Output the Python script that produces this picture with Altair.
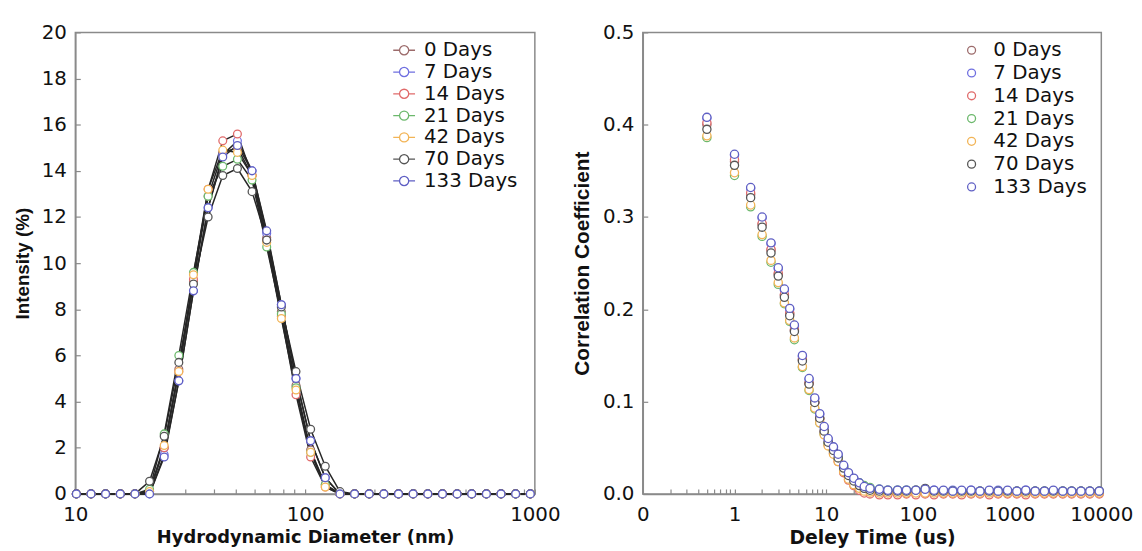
import altair as alt
import pandas as pd

series_names = ["0 Days", "7 Days", "14 Days", "21 Days", "42 Days", "70 Days", "133 Days"]
series_colors = ["#9c6b6b", "#6f6fe0", "#e06a6a", "#6cb86c", "#f2b456", "#555555", "#5f5fc4"]

# ---- Left panel: intensity size distribution ----
sizes = [10.1, 11.7, 13.54, 15.69, 18.17, 21.04, 24.36, 28.21, 32.67, 37.84, 43.82,
         50.75, 58.77, 68.06, 78.82, 91.28, 105.7, 122.4, 141.8, 164.2, 190.1, 220.2,
         255.0, 295.3, 342.0, 396.1, 458.7, 531.2, 615.1, 712.4, 825.0, 955.4]

int_0 = [0, 0, 0, 0, 0, 0.1, 2.0, 5.4, 9.2, 12.9, 14.8, 15.0, 13.8, 11.1, 7.9, 4.7, 1.9, 0.4, 0.0,
         0, 0, 0, 0, 0, 0, 0, 0, 0, 0, 0, 0, 0]
int_7 = [0, 0, 0, 0, 0, 0.0, 1.7, 4.9, 8.8, 12.4, 14.7, 15.3, 14.0, 11.3, 8.2, 5.0, 2.3, 0.7, 0.0,
         0, 0, 0, 0, 0, 0, 0, 0, 0, 0, 0, 0, 0]
int_14 = [0, 0, 0, 0, 0, 0.1, 2.0, 5.3, 9.3, 13.2, 15.3, 15.6, 13.8, 11.0, 7.7, 4.3, 1.6, 0.3, 0.0,
          0, 0, 0, 0, 0, 0, 0, 0, 0, 0, 0, 0, 0]
int_21 = [0, 0, 0, 0, 0, 0.2, 2.6, 6.0, 9.6, 12.9, 14.2, 14.5, 13.6, 10.7, 7.8, 4.6, 1.8, 0.4, 0.0,
          0, 0, 0, 0, 0, 0, 0, 0, 0, 0, 0, 0, 0]
int_42 = [0, 0, 0, 0, 0, 0.1, 2.1, 5.3, 9.5, 13.2, 14.9, 14.8, 13.8, 10.9, 7.6, 4.5, 1.8, 0.3, 0.0,
          0, 0, 0, 0, 0, 0, 0, 0, 0, 0, 0, 0, 0]
int_70 = [0, 0, 0, 0, 0, 0.55, 2.5, 5.7, 9.1, 12.0, 13.8, 14.1, 13.1, 11.0, 8.1, 5.3, 2.8, 1.2, 0.1,
          0, 0, 0, 0, 0, 0, 0, 0, 0, 0, 0, 0, 0]
int_133 = [0, 0, 0, 0, 0, 0.0, 1.6, 4.9, 8.8, 12.4, 14.6, 15.1, 14.0, 11.4, 8.2, 5.0, 2.3, 0.7, 0.0,
           0, 0, 0, 0, 0, 0, 0, 0, 0, 0, 0, 0, 0]
intensity = [int_0, int_7, int_14, int_21, int_42, int_70, int_133]

left_x_ticks = [10, 20, 30, 40, 50, 60, 70, 80, 90, 100, 200, 300, 400, 500, 600, 700, 800, 900, 1000]
left_x_labels = [10, 100, 1000]
left_y_ticks = [0, 2, 4, 6, 8, 10, 12, 14, 16, 18, 20]

# ---- Right panel: correlation function ----
tau = [0.5, 1, 1.5, 2, 2.5, 3, 3.5, 4, 4.5, 5.5, 6.5, 7.5, 8.5, 9.5, 10.5, 12, 13.5, 15.5, 17.5, 20,
       23, 26, 30, 38, 47, 60, 75, 95, 120, 150, 190, 240, 300, 380, 475, 600, 750, 950, 1200,
       1500, 1900, 2400, 3000, 3800, 4750, 6000, 7500, 9500]

corr_0 = [0.400, 0.360, 0.324, 0.292, 0.264, 0.238, 0.215, 0.195, 0.177, 0.145, 0.120, 0.099, 0.082,
          0.068, 0.056, 0.047, 0.038, 0.026, 0.018, 0.012, 0.007, 0.004,
          0.003, 0.002, 0.002, 0.002, 0.002, 0.002, 0.003, 0.002, 0.002, 0.002, 0.002, 0.002, 0.002,
          0.002, 0.002, 0.002, 0.002, 0.002, 0.002, 0.002, 0.002, 0.002, 0.002, 0.002, 0.002, 0.002]
corr_7 = [0.407, 0.367, 0.331, 0.299, 0.271, 0.244, 0.221, 0.200, 0.182, 0.149, 0.124, 0.103, 0.086,
          0.072, 0.059, 0.050, 0.042, 0.030, 0.022, 0.016, 0.011, 0.008,
          0.006, 0.005, 0.004, 0.004, 0.004, 0.003, 0.004, 0.004, 0.003, 0.004, 0.003, 0.004, 0.003,
          0.003, 0.004, 0.003, 0.003, 0.004, 0.003, 0.003, 0.003, 0.003, 0.003, 0.003, 0.003, 0.003]
corr_14 = [0.402, 0.362, 0.326, 0.293, 0.265, 0.239, 0.216, 0.196, 0.178, 0.146, 0.120, 0.099, 0.081,
           0.066, 0.053, 0.044, 0.035, 0.023, 0.015, 0.009, 0.004, 0.001,
           0.000, -0.001, -0.001, -0.001, 0.000, -0.001, 0.000, -0.001, 0.000, 0.000, -0.001, 0.000,
           0.000, -0.001, 0.000, 0.000, 0.000, -0.001, 0.000, 0.000, 0.000, 0.000, 0.000, 0.000, 0.000, 0.000]
corr_21 = [0.386, 0.345, 0.311, 0.279, 0.251, 0.227, 0.206, 0.187, 0.167, 0.137, 0.112, 0.092, 0.077,
           0.065, 0.054, 0.046, 0.039, 0.029, 0.022, 0.016, 0.012, 0.009,
           0.007, 0.005, 0.004, 0.004, 0.004, 0.004, 0.004, 0.003, 0.003, 0.003, 0.003, 0.003, 0.003,
           0.003, 0.003, 0.003, 0.003, 0.003, 0.003, 0.003, 0.003, 0.003, 0.003, 0.003, 0.003, 0.003]
corr_42 = [0.388, 0.348, 0.313, 0.281, 0.253, 0.229, 0.207, 0.188, 0.169, 0.138, 0.113, 0.093, 0.077,
           0.064, 0.052, 0.043, 0.035, 0.024, 0.016, 0.010, 0.006, 0.003,
           0.002, 0.001, 0.001, 0.001, 0.001, 0.001, 0.001, 0.001, 0.001, 0.001, 0.001, 0.001, 0.001,
           0.001, 0.001, 0.001, 0.001, 0.001, 0.001, 0.001, 0.001, 0.001, 0.001, 0.001, 0.001, 0.001]
corr_70 = [0.395, 0.356, 0.321, 0.289, 0.261, 0.236, 0.213, 0.193, 0.176, 0.144, 0.119, 0.099, 0.082,
           0.068, 0.056, 0.047, 0.039, 0.028, 0.020, 0.014, 0.009, 0.006,
           0.004, 0.003, 0.003, 0.003, 0.003, 0.004, 0.006, 0.003, 0.003, 0.003, 0.003, 0.003, 0.003,
           0.003, 0.003, 0.003, 0.003, 0.003, 0.003, 0.003, 0.003, 0.003, 0.003, 0.003, 0.003, 0.003]
corr_133 = [0.408, 0.368, 0.332, 0.300, 0.272, 0.245, 0.222, 0.201, 0.183, 0.150, 0.125, 0.104, 0.087,
            0.073, 0.060, 0.051, 0.043, 0.031, 0.023, 0.017, 0.012, 0.008,
            0.006, 0.005, 0.004, 0.004, 0.004, 0.004, 0.005, 0.004, 0.004, 0.003, 0.004, 0.004, 0.003,
            0.004, 0.003, 0.004, 0.003, 0.004, 0.003, 0.003, 0.004, 0.003, 0.003, 0.003, 0.003, 0.003]
correlation = [corr_0, corr_7, corr_14, corr_21, corr_42, corr_70, corr_133]

right_x_ticks = [0.1, 0.2, 0.3, 0.4, 0.5, 0.6, 0.7, 0.8, 0.9, 1, 2, 3, 4, 5, 6, 7, 8, 9, 10,
                 20, 30, 40, 50, 60, 70, 80, 90, 100, 200, 300, 400, 500, 600, 700, 800, 900, 1000,
                 2000, 3000, 4000, 5000, 6000, 7000, 8000, 9000, 10000]
right_x_labels = [0.1, 1, 10, 100, 1000, 10000]
right_y_ticks = [0.0, 0.1, 0.2, 0.3, 0.4, 0.5]

# ---- tables ----
left_df = pd.DataFrame(
    [{"series": n, "order": i, "size": s, "intensity": v}
     for i, (n, vals) in enumerate(zip(series_names, intensity))
     for s, v in zip(sizes, vals)]
)
right_df = pd.DataFrame(
    [{"series": n, "order": i, "tau": t, "corr": v}
     for i, (n, vals) in enumerate(zip(series_names, correlation))
     for t, v in zip(tau, vals)]
)

color_scale = alt.Scale(domain=series_names, range=series_colors)
inward = {"expr": "-5"}

# ---- left chart ----
lx = alt.X(
    "size:Q",
    scale=alt.Scale(type="log", domain=[10, 1000], nice=False),
    axis=alt.Axis(
        title="Hydrodynamic Diameter (nm)", values=left_x_ticks,
        labelExpr="indexof(%s, datum.value) >= 0 ? format(datum.value, 'd') : ''" % str(left_x_labels),
        labelFlush=False, labelOverlap=False, tickSize=inward, labelPadding=16, titlePadding=4,
    ),
)
ly = alt.Y(
    "intensity:Q",
    scale=alt.Scale(domain=[0, 20], nice=False),
    axis=alt.Axis(
        title="Intensity (%)", values=left_y_ticks, format="d", tickSize=inward,
        labelPadding=14, titlePadding=9, titleFont="Liberation Sans", titleFontSize=19,
    ),
)

left_lines = alt.Chart(left_df).mark_line(color="#262626", strokeWidth=1.5).encode(
    x=lx, y=ly, detail="series:N"
)
left_pts = alt.Chart(left_df).mark_point(
    shape="circle", filled=False, fill="white", size=62, strokeWidth=1.3, opacity=1
).encode(
    x=lx, y=ly,
    color=alt.Color(
        "series:N", scale=color_scale,
        legend=alt.Legend(
            title=None, orient="none", legendX=320, legendY=6,
            symbolType="M-1,0L-0.42,0M0.42,0L1,0M0.42,0A0.42,0.42,0,1,1,-0.42,0A0.42,0.42,0,1,1,0.42,0",
            symbolSize=484, symbolStrokeWidth=1.3, symbolFillColor="white", symbolOpacity=1,
            labelFont="DejaVu Sans", labelFontSize=20, labelColor="#111", labelOffset=8,
            rowPadding=0, padding=0,
        ),
    ),
    order=alt.Order("order:Q"),
)
left = alt.layer(left_lines, left_pts).properties(width=464, height=466)

# ---- right chart ----
rx = alt.X(
    "tau:Q",
    scale=alt.Scale(type="log", domain=[0.1, 10000], nice=False),
    axis=alt.Axis(
        title="Deley Time (us)", values=right_x_ticks,
        labelExpr="datum.value < 0.15 ? '0' : (indexof(%s, datum.value) >= 0 ? format(datum.value, 'd') : '')" % str(right_x_labels),
        labelFlush=False, labelOverlap=False, tickSize=inward, labelPadding=16, titlePadding=4,
        titleFontSize=19,
    ),
)
ry = alt.Y(
    "corr:Q",
    scale=alt.Scale(domain=[0, 0.5], nice=False),
    axis=alt.Axis(
        title="Correlation Coefficient", values=right_y_ticks, format=".1f", tickSize=inward,
        labelPadding=14, titlePadding=10, titleFont="Liberation Sans", titleFontSize=21,
    ),
)
right = alt.Chart(right_df).mark_point(
    shape="circle", filled=False, fill="white", size=68, strokeWidth=1.3, opacity=1
).encode(
    x=rx, y=ry,
    color=alt.Color(
        "series:N", scale=color_scale,
        legend=alt.Legend(
            title=None, orient="none", legendX=322, legendY=8,
            symbolType="circle", symbolSize=64, symbolStrokeWidth=1.3, symbolFillColor="white",
            symbolOpacity=1, labelFont="DejaVu Sans", labelFontSize=20, labelColor="#111",
            labelOffset=12, rowPadding=3, padding=0,
        ),
    ),
    order=alt.Order("order:Q"),
).properties(width=463, height=466)

chart = alt.hconcat(left, right, spacing=9).resolve_legend(color="independent").configure_axis(
    grid=False, domainColor="#8a8a8a", domainWidth=1.5, tickColor="#8a8a8a", tickWidth=1.2,
    labelFont="DejaVu Sans", labelFontSize=20, labelColor="#111",
    titleFont="DejaVu Sans", titleFontSize=18, titleFontWeight="bold", titleColor="#111",
).configure_view(stroke="#8a8a8a", strokeWidth=1.5).properties(
    padding={"left": 4, "top": 11, "right": 0, "bottom": 0}, background="white"
)

chart.save("out.html", embed_options={"renderer": "svg", "actions": False})
